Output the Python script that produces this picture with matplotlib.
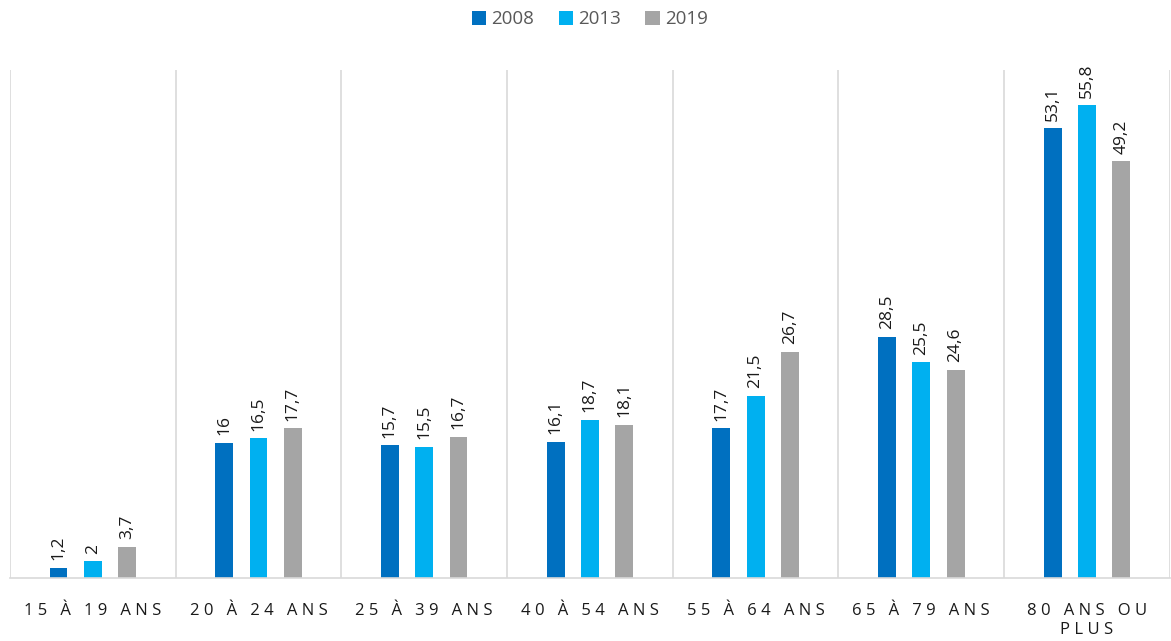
import numpy as np
import matplotlib.pyplot as plt

categories = ["15 À 19 ANS", "20 À 24 ANS", "25 À 39 ANS", "40 À 54 ANS",
              "55 À 64 ANS", "65 À 79 ANS", "80 ANS OU\nPLUS"]
years = ["2008", "2013", "2019"]
v2008 = [1.2, 16, 15.7, 16.1, 17.7, 28.5, 53.1]
v2013 = [2, 16.5, 15.5, 18.7, 21.5, 25.5, 55.8]
v2019 = [3.7, 17.7, 16.7, 18.1, 26.7, 24.6, 49.2]
colors = ["#0070c0", "#00b0f0", "#a5a5a5"]

plt.rcParams['font.family'] = ['Open Sans', 'DejaVu Sans']


def spaced(label):
    # mimic the wide letter spacing of the axis labels
    return "\n".join(" ".join(line) for line in label.split("\n"))


fig = plt.figure(figsize=(11.71, 6.41), dpi=100)
ax = fig.add_axes([0.0085, 0.098, 0.9905, 0.793])

ind = np.arange(len(categories))
width = 0.108
offset = 0.207
series = [v2008, v2013, v2019]
for i, (vals, col, yr) in enumerate(zip(series, colors, years)):
    bars = ax.bar(ind + (i - 1) * offset, vals, width, color=col, label=yr)
    for b, v in zip(bars, vals):
        ax.text(b.get_x() + b.get_width() / 2, v + 0.9,
                str(v).replace(".", ","), rotation=90, ha="center",
                va="bottom", fontsize=12.5, color="#1a1a1a")

ax.set_xlim(-0.5, len(categories) - 0.5)
ax.set_ylim(0, 60)
for x in np.arange(-0.5, len(categories), 1.0):
    ax.axvline(x, color="#d9d9d9", lw=1.2, zorder=0)

for s in ["top", "right", "left"]:
    ax.spines[s].set_visible(False)
ax.spines["bottom"].set_color("#d9d9d9")
ax.spines["bottom"].set_linewidth(1.2)
ax.set_yticks([])
ax.set_xticks(ind)
ax.set_xticklabels([spaced(c) for c in categories], fontsize=12,
                   color="#1a1a1a", linespacing=1.25)
ax.tick_params(axis="x", length=0, pad=18)

leg = ax.legend(loc="upper center", bbox_to_anchor=(0.5, 1.15), ncol=3,
                frameon=False, fontsize=13.5, handlelength=0.75,
                handleheight=0.75, columnspacing=1.3, handletextpad=0.3)
for t in leg.get_texts():
    t.set_color("#595959")

plt.savefig("out.png", dpi=100)
